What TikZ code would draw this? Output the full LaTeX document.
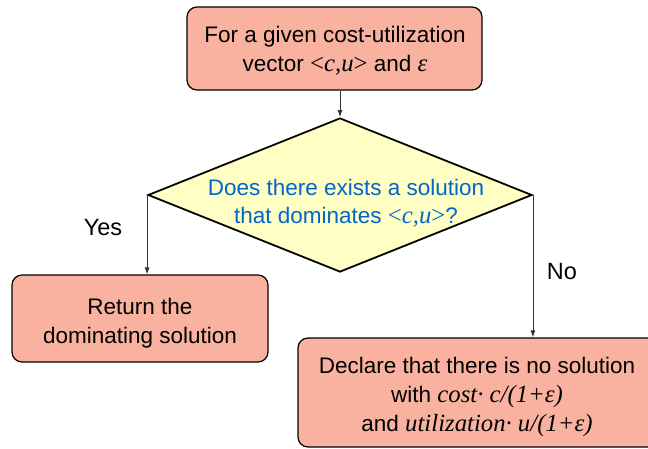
\documentclass[tikz,border=0pt]{standalone}
\usepackage{fontspec}
\setmainfont{Liberation Sans}
\newfontfamily\tms[Scale=1.1]{Liberation Serif}
\usetikzlibrary{shapes.geometric,arrows.meta}
\definecolor{boxfill}{RGB}{250,178,160}
\definecolor{decfill}{RGB}{255,255,196}
\definecolor{qblue}{RGB}{0,102,204}
\newcommand{\mi}[1]{{\tms\itshape #1}}
\newcommand{\cu}{{\tms<\itshape c,u\upshape>}}
\begin{document}
\begin{tikzpicture}[x=1pt,y=-1pt,
  every node/.style={font=\fontsize{22.5}{29}\selectfont, align=center},
  stepbox/.style={draw=black, line width=1.2pt, fill=boxfill, rounded corners=10pt, inner sep=0pt},
  decision/.style={diamond, draw=black, line width=1.8pt, fill=decfill, inner sep=0pt},
  flow/.style={draw=black!80, line width=0.8pt, -{Latex[length=7pt,width=5pt]}},
  txt/.style={inner sep=0pt},
  lbl/.style={inner sep=0pt, font=\fontsize{23.5}{29}\selectfont}]
  \path[use as bounding box] (0,0) rectangle (648,448);
  \clip (0,0) rectangle (648,448);

  % boxes
  \node[stepbox, minimum width=295pt, minimum height=83pt] (start) at (334.5,48.5) {};
  \node[txt] (starttext) at (335,51)
    {For a given cost-utilization\\ vector \cu{} and \mi{ε}};
  \node[decision, minimum width=384pt, minimum height=154pt] (q) at (340,195) {};
  \node[txt, text=qblue, font=\fontsize{22.5}{28}\selectfont] (qtext) at (346,203)
    {Does there exists a solution\\ that dominates \cu?};
  \node[stepbox, minimum width=256pt, minimum height=87pt] (ret) at (140,318.5) {};
  \node[txt] (rettext) at (140,323)
    {Return the\\ dominating solution};
  \node[stepbox, minimum width=360pt, minimum height=109pt] (none) at (478,392.5) {};
  \node[txt] (nonetext) at (477,397)
    {Declare that there is no solution\\ with \mi{cost· c/(1+ε)}\\ and \mi{utilization· u/(1+ε)}};

  % branch labels
  \node[lbl] (yes) at (103,228) {Yes};
  \node[lbl] (no) at (562,272) {No};

  % connectors
  \draw[flow] (start.south -| q.north) -- (q.north);
  \draw[flow] (q.west) -- (q.west |- ret.north);
  \draw[flow] (q.east) -- (q.east |- none.north);
\end{tikzpicture}
\end{document}
